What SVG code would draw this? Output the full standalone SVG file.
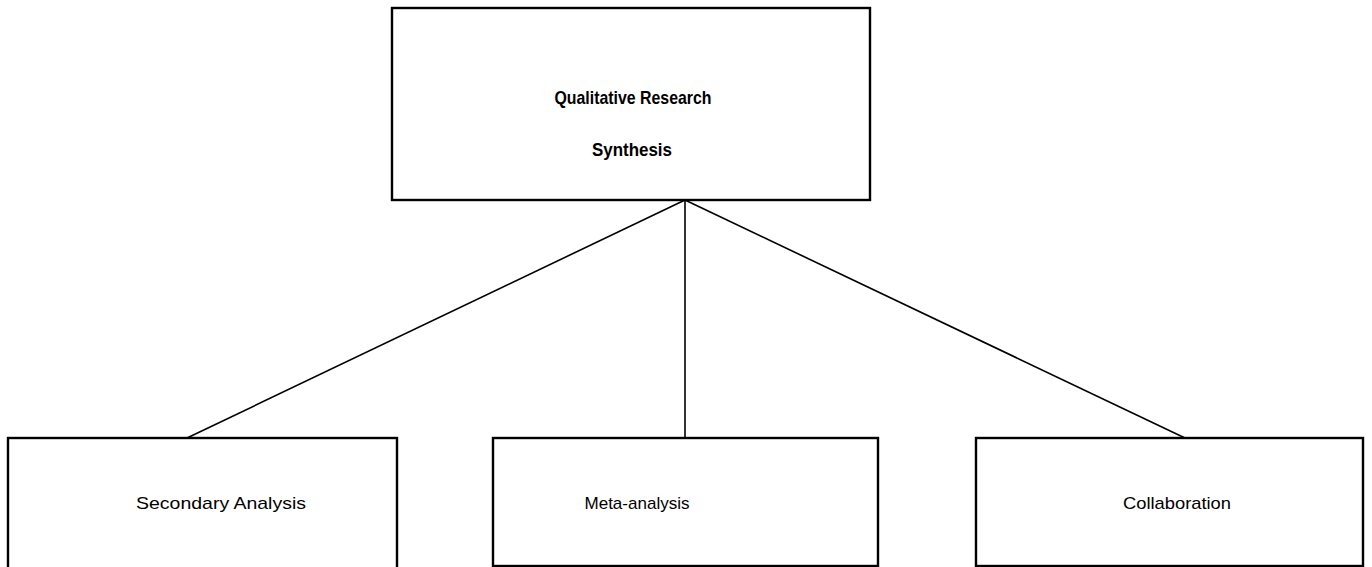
<svg xmlns="http://www.w3.org/2000/svg" width="1372" height="567" viewBox="0 0 1372 567">
<style>
.box{fill:#fff;stroke:#000;stroke-width:2.4}
.ln{stroke:#000;stroke-width:1.6;fill:none}
.t{font-family:"Liberation Sans",Arial,sans-serif;fill:#000;text-anchor:middle}
.b{font-weight:bold;font-size:19px}
.r{font-size:17px}
</style>
<rect width="1372" height="567" fill="#fff"/>
<g id="connectors">
<line class="ln" x1="685" y1="200" x2="187" y2="438"/>
<line class="ln" x1="685" y1="200" x2="685" y2="438"/>
<line class="ln" x1="685" y1="200" x2="1185" y2="438"/>
</g>
<g id="qrs">
<rect class="box" x="392" y="8" width="478" height="192"/>
<text class="t b" x="633" y="104" textLength="157" lengthAdjust="spacingAndGlyphs">Qualitative Research</text>
<text class="t b" x="632" y="156" textLength="80" lengthAdjust="spacingAndGlyphs">Synthesis</text>
</g>
<g id="secondary">
<rect class="box" x="8" y="438" width="389" height="140"/>
<text class="t r" x="221" y="509" textLength="170" lengthAdjust="spacingAndGlyphs">Secondary Analysis</text>
</g>
<g id="meta">
<rect class="box" x="493" y="438" width="385" height="128"/>
<text class="t r" x="637" y="509" textLength="105" lengthAdjust="spacingAndGlyphs">Meta-analysis</text>
</g>
<g id="collab">
<rect class="box" x="976" y="438" width="387" height="128"/>
<text class="t r" x="1177" y="509" textLength="108" lengthAdjust="spacingAndGlyphs">Collaboration</text>
</g>
</svg>
